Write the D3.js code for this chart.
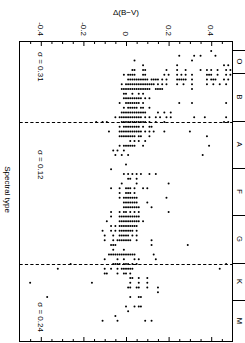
<!DOCTYPE html>
<html><head><meta charset="utf-8">
<script src="https://cdn.jsdelivr.net/npm/d3@7"></script>
<style>
html,body{margin:0;padding:0;background:#fff;}
svg{display:block;}
text{font-family:"Liberation Sans",Arial,Helvetica,sans-serif;fill:#000;}
</style>
</head><body>
<svg id="chart" width="245" height="343"></svg>
<script>
// Spectral code: O0=0, B0=10, A0=20, F0=30, G0=40, K0=50, M0=58
const classLabels = ["O", "B", "A", "F", "G", "K", "M"];
const classBounds = [4.7, 9.7, 19.7, 29.7, 39.7, 49.7, 57.7];
const dividerCodes = [20, 50];
const sigmaLabels = ["σ = 0.31", "σ = 0.12", "σ = 0.24"];
const sigmaCodes = [5.2, 25.9, 58.1];
const xTickValues = [-40, -20, 0, 20, 40];
const xTickLabels = ["-0.4", "-0.2", "0", "0.2", "0.4"];
const xMinorTicks = [-45, -35, -30, -25, -15, -10, -5, 5, 10, 15, 25, 30, 35, 45];
const xTitle = "Δ(B−V)";
const yTitle = "Spectral type";

// One row per spectral subtype; Δ(B−V) in units of 0.01 mag
const rowCodes = [5, 6, 7, 8, 9, 10, 11, 12, 13, 14, 15, 16, 17, 18, 19, 20,
  21, 22, 23, 24, 25, 26, 27, 29, 30, 31, 32, 33, 34, 35, 36, 37, 38, 39, 40,
  41, 42, 43, 44, 45, 46, 47, 48, 49, 50, 51, 52, 53, 54, 55, 56, 57, 59, 60, 61, 62];
const rowDeltas = [
  [40],
  [25, 32, 35, 42],
  [4, 31],
  [8, 24, 46, 48],
  [3, 4, 8, 9, 19, 24, 28, 35, 38, 40, 43, 47, 49],
  [-1, 1, 2, 3, 4, 8, 9, 18, 20, 24, 26, 28, 31, 38, 39, 40, 43, 47, 49],
  [1, 2, 3, 4, 5, 6, 7, 8, 9, 10, 12, 13, 14, 15, 17, 19, 24, 25, 26, 27, 28, 31, 38, 40, 41, 42, 46, 48],
  [-2, 0, 1, 2, 3, 4, 5, 6, 7, 8, 9, 10, 11, 12, 13, 15, 17, 19, 24, 27, 31, 38, 41, 44, 47],
  [-2, -1, 0, 1, 2, 3, 4, 5, 6, 7, 8, 9, 10, 11, 14, 15, 16, 17, 31],
  [-1, 0, 3, 6, 8],
  [-1, 0, 1, 2, 3, 4, 5, 6, 7, 9, 11],
  [-3, 0, 1, 2, 3, 4, 5, 6, 8, 25, 31, 47],
  [-1, 1, 2, 3, 4, 5, 7, 8, 11],
  [-2, -1, 0, 1, 2, 3, 4, 5, 6, 7, 8, 9, 15, 18, 21],
  [-5, -3, -2, -1, 0, 1, 2, 3, 4, 5, 6, 7, 9, 11, 14, 16, 19, 21, 32, 37, 47],
  [-14, -11, -9, -2, -1, 0, 1, 2, 3, 4, 5, 6, 7, 8, 9, 11, 14, 18, 46, 48],
  [-3, -1, 0, 1, 2, 3, 4, 5, 6, 8, 11, 12],
  [-8, -3, -2, -1, 0, 1, 2, 3, 4, 5, 6, 7, 9, 11, 13, 18, 30],
  [-3, -2, -1, 0, 1, 2, 3, 4, 6, 7, 11, 38],
  [2, 4, 6, 9],
  [-3, -1, 0, 1, 2, 3, 4, 8, 39],
  [-6, -4, -1],
  [-5, -2, 1, 36],
  [0],
  [-7],
  [-1, 1, 3, 5, 7, 11, 14],
  [1, 2, 5],
  [-2, 5, 20],
  [-7, -3, 0, 1, 2, 4, 8, 10],
  [-3, 0, 1, 2, 4],
  [-3, -1, 0, 1, 2, 3, 4, 5, 19],
  [-1, 0, 1, 2, 3, 4, 5, 10],
  [-1, 0, 1, 2, 3, 4, 5, 6, 12],
  [-7, -3, -1, 0, 2, 4, 6, 20],
  [-7, -3, -2, -1, 0, 1, 2, 3, 4, 5, 6],
  [-9, -3, -2, -1, 0, 1, 2, 3, 4, 5, 6, 8],
  [-7, -5, -3, -2, -1, 0, 1, 2, 3, 4, 5],
  [-11, -7, -5, -3, -2, -1, 0, 1, 2, 3, 5],
  [-10, -6, -3, -2, -1, 0, 1, 3, 5],
  [-10, -6, -4, -3, -2, -1, 0, 1, 2, 5, 12],
  [-7, -6, -5, 12, 29],
  [-6, -1],
  [-8, -7, -6, -5, -4, -3, -2, -1, 0, 1, 2, 3, 4, 13],
  [-10, -4, -1, 4, 6, 14],
  [-26, -6, -5, -4, -3, -1, 0, 1, 3, 5, 47],
  [-32, -10, -7, -4, -2, -1, 0, 1, 2, 3, 44],
  [-10, -9, -4, -1, 0, 2],
  [2, 3, 6, 10],
  [-45, -16, 2, 6, 10],
  [1, 2, 5, 6, 10, 15],
  [15],
  [-37, 2, 6, 7],
  [0, 4, 6, 7],
  [1],
  [-5],
  [-11, -4, 9, 12]
];

const svg = d3.select("#chart");
const frame = {left: 19.5, right: 232.5, top: 41.5, bottom: 341.5};
const x = d3.scaleLinear().domain([-50, 50]).range([frame.left, frame.right]);
const y = d3.scaleLinear().domain([2.98, 66.4]).range([frame.top, frame.bottom]);

const points = [];
rowCodes.forEach((c, i) => rowDeltas[i].forEach(d => points.push({c, d})));

// dashed dividers
svg.append("g").selectAll("line").data(dividerCodes).join("line")
  .attr("x1", frame.left).attr("x2", frame.right)
  .attr("y1", d => Math.round(y(d)) + 0.5).attr("y2", d => Math.round(y(d)) + 0.5)
  .attr("stroke", "#000").attr("stroke-width", 1).attr("stroke-dasharray", "3.2,2.2");

// points
svg.append("g").selectAll("circle").data(points).join("circle")
  .attr("cx", p => x(p.d)).attr("cy", p => y(p.c)).attr("r", 1).attr("fill", "#000");

// frame
svg.append("rect").attr("x", frame.left).attr("y", frame.top)
  .attr("width", frame.right - frame.left).attr("height", frame.bottom - frame.top)
  .attr("fill", "none").attr("stroke", "#000").attr("stroke-width", 1);

// ticks top (inward) and bottom (inward)
function tickAxis(g, axis) {
  g.call(axis);
  g.select(".domain").remove();
  g.selectAll("text").remove();
  g.selectAll("line").attr("stroke", "#000").attr("stroke-width", 1);
}
svg.append("g").attr("transform", `translate(0,${frame.top})`)
  .call(g => tickAxis(g, d3.axisBottom(x).tickValues(xTickValues).tickSize(4.5)));
svg.append("g").attr("transform", `translate(0,${frame.top})`)
  .call(g => tickAxis(g, d3.axisBottom(x).tickValues(xMinorTicks).tickSize(2.5)));
svg.append("g").attr("transform", `translate(0,${frame.bottom})`)
  .call(g => tickAxis(g, d3.axisTop(x).tickValues(xTickValues).tickSize(4.5)));
svg.append("g").attr("transform", `translate(0,${frame.bottom})`)
  .call(g => tickAxis(g, d3.axisTop(x).tickValues(xMinorTicks).tickSize(2.5)));

// top tick labels (rotated)
svg.append("g").selectAll("text").data(xTickValues).join("text")
  .attr("transform", d => `translate(${x(d)},36) rotate(90)`)
  .attr("text-anchor", "end").attr("dy", "0.35em")
  .style("font-size", "8px")
  .text((d, i) => xTickLabels[i]);

// x title
svg.append("text").attr("x", x(0)).attr("y", 15).attr("text-anchor", "middle")
  .style("font-size", "8px").text(xTitle);

// y title
svg.append("text").attr("transform", `translate(7.5,${(frame.top + frame.bottom) / 2 - 2}) rotate(90)`)
  .attr("text-anchor", "middle").attr("dy", "0.35em")
  .style("font-size", "8px").text(yTitle);

// sigma labels
svg.append("g").selectAll("text").data(sigmaCodes).join("text")
  .attr("transform", d => `translate(${x(-40)},${y(d)}) rotate(90)`)
  .attr("text-anchor", "start").attr("dy", "0.35em")
  .style("font-size", "8px")
  .text((d, i) => sigmaLabels[i]);

// spectral class strip on the right
svg.append("g").selectAll("line").data(classBounds).join("line")
  .attr("x1", frame.right).attr("x2", 245)
  .attr("y1", d => Math.round(y(d)) + 0.5).attr("y2", d => Math.round(y(d)) + 0.5)
  .attr("stroke", "#000").attr("stroke-width", 1);
const yEnd = y.domain()[1];
svg.append("g").selectAll("text").data(classLabels).join("text")
  .attr("transform", (d, i) => {
    const a = classBounds[i];
    const b = i + 1 < classBounds.length ? classBounds[i + 1] : yEnd;
    return `translate(240,${y((a + b) / 2)}) rotate(90)`;
  })
  .attr("text-anchor", "middle").attr("dy", "0.35em")
  .style("font-size", "7.5px")
  .text(d => d);
</script>
</body></html>
